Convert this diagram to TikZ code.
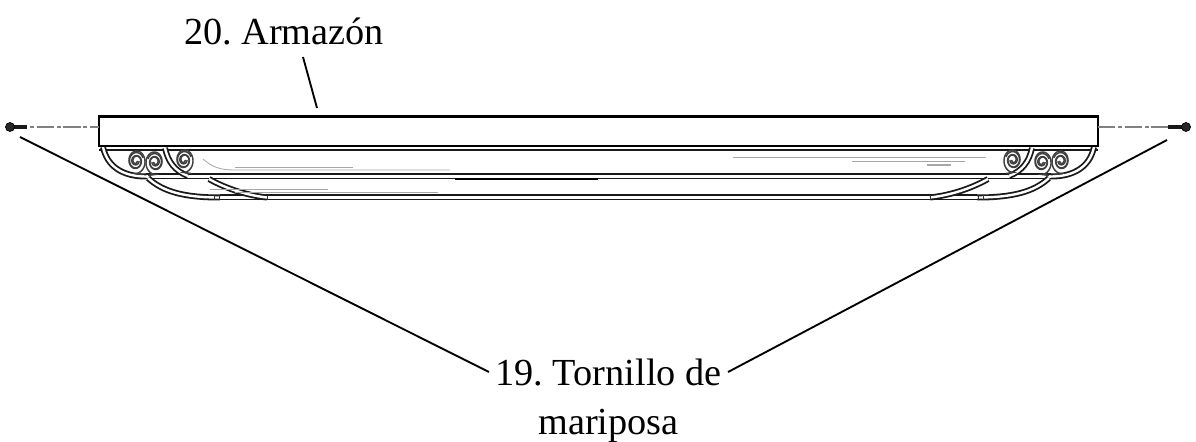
\documentclass[tikz,border=0pt]{standalone}
\usepackage{fontspec}
\setmainfont{Liberation Serif}
\usepackage{tikz}
\usetikzlibrary{positioning}
\pgfmathsetmacro{\screwy}{127}
\pgfmathsetmacro{\midx}{1197}
\frenchspacing
\tikzset{
    callout/.style={font=\fontsize{28.7}{37}\selectfont, inner sep=0pt, outer sep=5pt, align=center},
    leader/.style={line width=1.4pt},
    tube/.style={draw=black!90, line width=1.35pt, double=white, double distance=1.8pt},
    scroll/.style={black!75, line width=1.1pt},
    streak/.style={black!35, line width=0.6pt},
    axisline/.style={black!50, line width=1pt, dash pattern=on 13pt off 2pt on 3pt off 2pt},
    screwshank/.style={line width=3.5pt, black!90},
}
% one half of the light fitting, drawn again mirrored
\newcommand{\halffitting}{%
    % rails end in curved arms
    \draw[tube] (103,147) .. controls (107,166) and (122,176.5) .. (146,176.5);
    \draw[tube] (148,178) .. controls (163,192) and (185,197.5) .. (220,197.5);
    \draw[tube] (165,148) .. controls (168,162) and (175,171) .. (188,176);
    \draw[tube] (209,179) .. controls (225,188) and (245,195) .. (267,197.5);
    % ticks on the lower rail
    \draw[black!80, line width=0.7pt] (214,195) -- (214,200) (219,195) -- (219,200) (267,195) -- (267,200);
    % scrolls
    \foreach \cx/\cy/\dir in {136/161/1, 155/162/-1, 184/160/1} {
        \begin{scope}[shift={(\cx,\cy)}, xscale=\dir]
            \draw[scroll] plot[domain=0:810, samples=80, smooth]
                ({(1+\x/810*9)*cos(\x)}, {(1+\x/810*11.5)*sin(\x)}) -- ++(7,1);
            \draw[scroll] plot[domain=0:700, samples=70, smooth]
                ({(3+\x/700*4.5)*cos(\x)}, {(3+\x/700*6)*sin(\x)});
        \end{scope}
    }
}
\begin{document}
\begin{tikzpicture}[x=0.75pt, y=-0.75pt]
    \useasboundingbox (0,0) rectangle (1196,442);
    % define labels
    \node[callout] (frame_label) at (284,31) {20. Armazón};
    \node[callout] (screw_label) at (608.5,372) {19. Tornillo de};
    \node[callout, below=8pt of screw_label] (screw_label_b) {mariposa};
    % define points
    \coordinate (frame_tl) at (99,116.5);
    \coordinate (frame_br) at (1098,146);
    \coordinate (frame_mark) at (317,108);
    \coordinate (frame_l) at (99,\screwy);
    \coordinate (frame_r) at (1098,\screwy);
    \coordinate (screw_l) at (10,\screwy);
    \coordinate (screw_r) at (1186,\screwy);
    \coordinate (screw_l_mark) at (20,137);
    \coordinate (screw_r_mark) at (1167,140);
    % rails
    \draw[tube] (146,176.5) -- (1051,176.5);
    \draw[tube] (220,197.5) -- (977,197.5);
    \draw[black!90, line width=1.4pt] (99,150) -- (1098,150);
    \draw[black, line width=1.5pt] (455,178.7) -- (598,178.7);
    % fitting, both sides
    \halffitting
    \begin{scope}[shift={(\midx,0)}, xscale=-1]
        \halffitting
    \end{scope}
    % glass reflections
    \draw[streak] (203,159) .. controls (212,167) and (220,170) .. (235,170) -- (450,170);
    \draw[streak] (235,167) -- (353,167);
    \draw[streak] (210,189) -- (328,189);
    \draw[streak] (235,192) -- (438,192);
    \draw[streak] (733,157) -- (986,157);
    \draw[streak] (852,161) -- (965,161);
    \draw[streak, line width=1pt] (927,165) -- (951,165);
    % frame
    \draw[line width=1.8pt, fill=white] (frame_tl) rectangle (frame_br);
    % screws
    \draw[axisline] (screw_l) -- (frame_l);
    \draw[axisline] (frame_r) -- (screw_r);
    \draw[screwshank] (screw_l) -- ++(17,0);
    \draw[screwshank] (screw_r) -- ++(-18,0);
    \draw[fill=black!85, line width=0.5pt] (screw_l) circle[radius=4.5];
    \draw[fill=black!85, line width=0.5pt] (screw_r) circle[radius=4.5];
    % add leaders
    \draw[leader] (frame_label) ++(19,26) -- (frame_mark);
    \draw[leader] (screw_l_mark) -- (screw_label.west);
    \draw[leader] (screw_r_mark) -- (screw_label.east);
\end{tikzpicture}
\end{document}
